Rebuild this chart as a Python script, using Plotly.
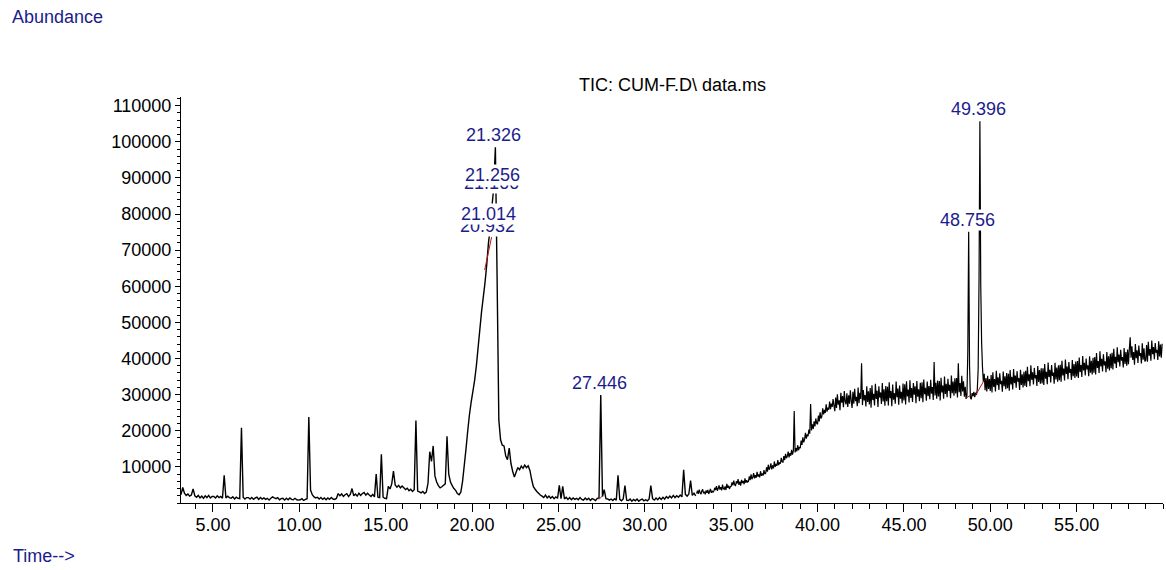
import plotly.graph_objects as go

# ---------------- data ----------------
# Total ion chromatogram, part 1: sampled every 0.1 min from 3.15 to 32.95 min
SCAN1_START = 3.15
SCAN1_STEP = 0.1
TIC1_ROWS = [
    (2300, 4300, 2700, 2100, 2500, 1900, 2200, 3900, 2000),            # 3.15..3.95
    (1600, 2100, 1400, 1900, 1300, 2000, 1500, 2100, 1400, 1800),      # 4
    (1800, 1400, 2000, 1500, 1800, 1300, 7700, 1400, 1900, 1500),      # 5
    (1300, 1700, 1100, 1600, 1300, 1200, 20800, 1600, 1100, 1500),     # 6
    (1500, 1100, 1500, 1000, 1400, 1600, 1000, 1500, 1100, 1400),      # 7
    (1000, 1300, 800, 1300, 1700, 1400, 1200, 1500, 900, 1200),        # 8
    (1300, 800, 1300, 900, 1400, 1000, 900, 1300, 900, 800),           # 9
    (900, 1200, 700, 1000, 1200, 23800, 3600, 2300, 1700, 1400),       # 10
    (1600, 1100, 1500, 1000, 1400, 900, 1400, 1000, 1500, 1100),       # 11
    (1000, 1300, 2600, 2000, 2500, 1800, 2300, 2600, 1800, 2400),      # 12
    (4000, 2000, 2500, 1900, 2700, 2100, 2600, 2900, 2200, 2700),      # 13
    (2200, 1800, 2400, 1700, 8000, 1600, 1500, 13500, 1600, 1300),     # 14
    (1200, 4600, 3900, 5300, 8800, 5000, 4400, 4900, 4200, 4700),      # 15
    (4200, 3700, 4100, 3400, 3800, 3200, 3700, 22800, 3300, 3100),     # 16
    (2800, 3200, 2600, 3000, 5500, 14200, 11500, 15800, 7500, 5800),   # 17
    (4800, 4200, 4500, 4900, 5300, 18500, 8000, 5800, 4800, 4000),     # 18
    (3500, 2600, 2300, 3000, 6000, 10500, 15000, 20000, 24500, 28000), # 19
    (31000, 34000, 38000, 43000, 48000, 53000, 57000, 61000, 66000, 72000),  # 20
    (76000, 82000, 87000, 98500, 62000, 23000, 17500, 16000, 15800, 13000),  # 21
    (12000, 15200, 11000, 8800, 7200, 8500, 9800, 9200, 10200, 9600),  # 22
    (10500, 9800, 10300, 9000, 6500, 4500, 3800, 3200, 2700, 2200),    # 23
    (1900, 1500, 2200, 1400, 1900, 1300, 1800, 1200, 1700, 1300),      # 24
    (4900, 1200, 4600, 1100, 1600, 1000, 1500, 900, 1400, 1000),       # 25
    (1300, 900, 1500, 1000, 800, 1400, 900, 1300, 700, 1200),          # 26
    (1000, 700, 1300, 1400, 29900, 1800, 3700, 1200, 1100, 800),       # 27
    (1100, 700, 1200, 800, 7650, 1000, 600, 1100, 4800, 800),          # 28
    (700, 1100, 500, 1000, 600, 1100, 500, 900, 1100, 600),            # 29
    (900, 600, 1100, 4800, 1200, 800, 1400, 900, 1500, 1000),          # 30
    (1600, 1100, 1800, 1300, 1900, 1400, 2100, 1500, 2000, 1600),      # 31
    (2200, 1700, 9200, 2400, 1900, 2500, 6200, 2100, 2700, 2000),      # 32
]

# Total ion chromatogram, part 2: sampled every 0.05 min from 33.00 to 59.95 min
SCAN2_START = 33.0
SCAN2_STEP = 0.05
TIC2_ROWS = [
    (2600, 3400, 2500, 3700, 2900, 2400, 3300, 3800, 2700, 3100,
     2400, 3500, 2800, 3600, 2500, 3200, 3900, 2800, 3400, 3000),      # 33
    (3300, 4200, 3600, 4700, 3400, 4000, 4900, 3700, 4400, 3500,
     5100, 4000, 3800, 4600, 3600, 5300, 4200, 4800, 3900, 4500),      # 34
    (4600, 5700, 4900, 6200, 5100, 4700, 6000, 5400, 6600, 5000,
     5900, 4800, 6400, 5500, 6100, 5200, 6800, 5600, 6300, 5800),      # 35
    (6000, 7400, 6300, 7900, 6600, 7100, 8300, 6800, 7700, 7000,
     8600, 7300, 7900, 7100, 8800, 7500, 8200, 7600, 9100, 8000),      # 36
    (8300, 9900, 8700, 10600, 9200, 9800, 11000, 9300, 10400, 9600,
     11500, 10000, 10800, 10300, 11900, 10500, 11200, 10900, 12500, 11400),  # 37
    (11300, 13000, 11900, 13600, 12400, 12900, 14200, 12600, 13800, 13100,
     14700, 13400, 14400, 25500, 14000, 15200, 14300, 16000, 14600, 15500),  # 38
    (15200, 17300, 16100, 18200, 16800, 17600, 19400, 17800, 19000, 18500,
     20300, 19200, 27400, 20100, 21800, 20500, 22600, 21200, 23400, 22100),  # 39
    (21800, 24200, 22600, 25100, 23400, 24000, 26200, 24500, 25800, 24900,
     27300, 25300, 26400, 25800, 28100, 26000, 27500, 26600, 28800, 27000),  # 40
    (25400, 29200, 26300, 30100, 27200, 28400, 25700, 30500, 27800, 29600,
     26500, 31000, 28100, 27300, 30400, 26600, 29800, 27500, 31200, 28300),  # 41
    (26300, 30800, 27500, 31600, 28200, 29400, 26800, 32000, 27600, 30500,
     28800, 38700, 27100, 31300, 28400, 29900, 26700, 32300, 28000, 30900),  # 42
    (27300, 31800, 26400, 32600, 28500, 30200, 27000, 33000, 28800, 31100,
     26600, 32300, 29200, 30600, 27400, 33200, 28100, 31500, 26900, 32400),  # 43
    (28200, 32200, 27000, 33400, 29000, 31000, 26800, 32800, 28600, 30400,
     27500, 33600, 29300, 31700, 27200, 32500, 28900, 30800, 27600, 33100),  # 44
    (28400, 32900, 27300, 33700, 29500, 31400, 27800, 34000, 29100, 31800,
     28000, 33200, 30000, 32300, 27600, 33800, 29400, 31500, 28200, 33300),  # 45
    (29000, 33400, 27900, 34200, 30100, 31900, 28300, 33600, 29600, 32400,
     28700, 34100, 30300, 32100, 28500, 39000, 29800, 33300, 28900, 33900),  # 46
    (29500, 33800, 28400, 34700, 30600, 32500, 28900, 35000, 30200, 33000,
     29300, 34400, 31000, 32700, 29000, 35300, 30400, 33600, 29700, 34500),  # 47
    (30300, 34600, 29200, 38700, 30700, 33200, 29600, 35200, 30900, 33700,
     29400, 32200, 28800, 29800, 42000, 75100, 38000, 29200, 28700, 30400),  # 48
    (29600, 30800, 29300, 30500, 29900, 31500, 37000, 62000, 105700, 60000,
     44300, 37500, 33500, 35800, 31200, 34600, 30900, 35200, 31600, 34300),  # 49
    (31000, 35400, 30600, 36200, 32100, 34300, 30900, 36600, 32600, 34800,
     31300, 35900, 32900, 33800, 30800, 36400, 32300, 35100, 31500, 36000),  # 50
    (31800, 35800, 31100, 36800, 32800, 34900, 31400, 37100, 33200, 35300,
     31900, 36500, 33600, 34600, 31300, 36900, 32700, 35600, 32000, 36300),  # 51
    (32500, 36600, 32100, 37700, 33700, 35600, 32300, 38100, 34100, 36200,
     32800, 37400, 34500, 35400, 32400, 37900, 33500, 36800, 33000, 37300),  # 52
    (33100, 37300, 32700, 38500, 34400, 36300, 32900, 38900, 34900, 36900,
     33400, 38200, 35200, 36100, 33000, 38800, 34200, 37500, 33600, 38100),  # 53
    (34000, 38300, 33600, 39400, 35300, 37200, 33900, 39700, 35700, 37800,
     34300, 39000, 36000, 37100, 34100, 39600, 35100, 38500, 34600, 39200),  # 54
    (35000, 39300, 34600, 40300, 36300, 38200, 34900, 40700, 36700, 38800,
     35300, 40000, 37000, 38100, 35100, 40600, 36100, 39400, 35600, 40200),  # 55
    (36100, 40400, 35600, 41500, 37400, 39300, 36000, 42000, 37800, 39900,
     36400, 41200, 38100, 39200, 36200, 41800, 37200, 40600, 36700, 41300),  # 56
    (37300, 41600, 37000, 42700, 38600, 40500, 37400, 43100, 39000, 41100,
     37800, 42400, 39400, 40400, 37500, 42900, 38500, 41800, 38000, 42500),  # 57
    (38400, 42600, 45900, 40200, 43400, 39600, 41800, 38300, 44000, 40100,
     42300, 38800, 43600, 40700, 41500, 38600, 44200, 39700, 42800, 39200),  # 58
    (39500, 43700, 39100, 44600, 40800, 42600, 39400, 45000, 41200, 43200,
     39800, 44300, 41600, 42400, 39600, 44800, 40600, 43900, 40200, 44100),  # 59
]

# Integrated peak labels (retention time, apex abundance)
PEAK_RT = ["20.932", "21.014", "21.166", "21.256", "21.326", "27.446", "48.756", "49.396"]
PEAK_APEX = [73300, 76800, 85300, 87500, 98600, 29900, 75100, 105700]

# Integration baselines (red)
BASE_X = [20.73, 21.13, None, 27.35, 27.55, None, 48.59, 48.88, None, 49.16, 49.65]
BASE_Y = [64500, 73600, None, 1000, 2000, None, 29000, 29900, None, 29900, 34000]

X_TICKS = [5, 10, 15, 20, 25, 30, 35, 40, 45, 50, 55]
X_TICK_TEXT = ["5.00", "10.00", "15.00", "20.00", "25.00", "30.00",
               "35.00", "40.00", "45.00", "50.00", "55.00"]
Y_TICKS = [10000, 20000, 30000, 40000, 50000, 60000, 70000, 80000, 90000, 100000, 110000]
Y_TICK_TEXT = [str(v) for v in Y_TICKS]

TITLE = "TIC: CUM-F.D\\ data.ms"

# ---------------- figure ----------------
tic1 = [v for row in TIC1_ROWS for v in row]
tic2 = [v for row in TIC2_ROWS for v in row]

FONT = "Liberation Sans, Arial, sans-serif"
NAVY = "#1c1c8c"

fig = go.Figure()
fig.add_trace(go.Scatter(
    x0=SCAN1_START, dx=SCAN1_STEP, y=tic1, mode="lines",
    line=dict(color="black", width=1.4, simplify=False),
    hoverinfo="skip", showlegend=False,
))
fig.add_trace(go.Scatter(
    x0=SCAN2_START, dx=SCAN2_STEP, y=tic2, mode="lines",
    line=dict(color="black", width=1.2, simplify=False),
    hoverinfo="skip", showlegend=False,
))
fig.add_trace(go.Scatter(
    x=BASE_X, y=BASE_Y, mode="lines",
    line=dict(color="#b01818", width=1),
    hoverinfo="skip", showlegend=False,
))

W, H = 1166, 570
ML, MR, MT, MB = 181, 3, 97, 67
pw = W - ML - MR
ph = H - MT - MB

annotations = []
for rt, apex in zip(PEAK_RT, PEAK_APEX):
    annotations.append(dict(
        x=float(rt), y=apex, xref="x", yref="y", text=rt, showarrow=False,
        xanchor="center", yanchor="bottom", xshift=-1, yshift=1,
        font=dict(family=FONT, size=18, color=NAVY),
        bgcolor="white", borderpad=0,
    ))
annotations.append(dict(
    x=0.5, y=1, xref="paper", yref="paper", text=TITLE, showarrow=False,
    xanchor="center", yanchor="bottom", yshift=0,
    font=dict(family=FONT, size=18, color="black"),
))
annotations.append(dict(
    x=(10 - ML) / pw, y=(MT + ph - 17) / ph, xref="paper", yref="paper",
    text="Abundance", showarrow=False, xanchor="left", yanchor="middle",
    font=dict(family=FONT, size=18, color=NAVY),
))
annotations.append(dict(
    x=(11 - ML) / pw, y=(MT + ph - 556) / ph, xref="paper", yref="paper",
    text="Time-->", showarrow=False, xanchor="left", yanchor="middle",
    font=dict(family=FONT, size=18, color=NAVY),
))

fig.update_layout(
    width=W, height=H,
    margin=dict(l=ML, r=MR, t=MT, b=MB, pad=0),
    paper_bgcolor="white", plot_bgcolor="white",
    showlegend=False,
    annotations=annotations,
    xaxis=dict(
        range=[3.15, 60.0], showgrid=False, zeroline=False,
        showline=True, linecolor="black", linewidth=1,
        ticks="outside", ticklen=8, tickwidth=1, tickcolor="black",
        tickmode="array", tickvals=X_TICKS, ticktext=X_TICK_TEXT,
        tickfont=dict(family=FONT, size=18, color="black"),
        ticklabelstandoff=-3,
        minor=dict(tickmode="linear", tick0=0, dtick=1, ticks="outside",
                   ticklen=5, tickwidth=1, tickcolor="black", showgrid=False),
    ),
    yaxis=dict(
        range=[0, 112400], showgrid=False, zeroline=False,
        showline=True, linecolor="black", linewidth=1,
        ticks="outside", ticklen=5, tickwidth=1, tickcolor="black",
        tickmode="array", tickvals=Y_TICKS, ticktext=Y_TICK_TEXT,
        tickfont=dict(family=FONT, size=18, color="black"),
        minor=dict(tickmode="linear", tick0=0, dtick=2000, ticks="outside",
                   ticklen=3, tickwidth=1, tickcolor="black", showgrid=False),
    ),
)

fig.write_html("out.html")
